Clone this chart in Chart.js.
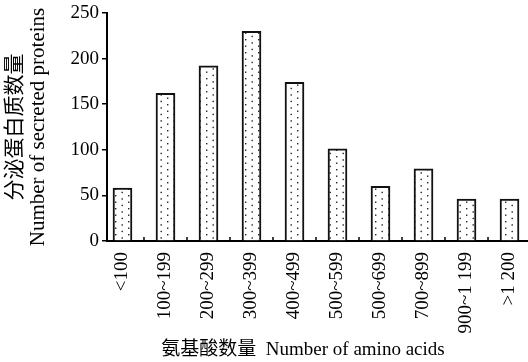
<!DOCTYPE html>
<html>
<head>
<meta charset="utf-8">
<script src="https://cdn.jsdelivr.net/npm/chart.js@4/dist/chart.umd.min.js"></script>
<style>
html,body{margin:0;padding:0;background:#fff;overflow:hidden;}
#wrap{width:528px;height:362px;position:relative;}
</style>
</head>
<body>
<div id="wrap"><canvas id="c" width="528" height="362"></canvas></div>
<script>
// ---- data ----
const categories = ['<100', '100~199', '200~299', '300~399', '400~499', '500~599', '500~699', '700~899', '900~1 199', '>1 200'];
const proteinCounts = [58, 162, 192, 230, 174, 101, 60, 79, 46, 46];
const yTicks = [0, 50, 100, 150, 200, 250];
const yTitle = ['分泌蛋白质数量', 'Number of secreted proteins'];
const xTitle = '氨基酸数量  Number of amino acids';

const FONT = "'Liberation Serif', 'Noto Sans CJK SC', serif";

// dotted fill pattern
function makePattern() {
  const t = document.createElement('canvas');
  t.width = 13; t.height = 13;
  const g = t.getContext('2d');
  g.fillStyle = '#fff';
  g.fillRect(0, 0, 13, 13);
  g.fillStyle = '#222';
  g.fillRect(11, 0, 1.4, 1.4);
  g.fillRect(11, 6.5, 1.4, 1.4);
  g.fillRect(4.5, 3.25, 1.4, 1.4);
  g.fillRect(4.5, 9.75, 1.4, 1.4);
  return document.getElementById('c').getContext('2d').createPattern(t, 'repeat');
}

const innerTicks = {
  id: 'innerTicks',
  afterDatasetsDraw(chart) {
    const ctx = chart.ctx, xs = chart.scales.x, bottom = chart.chartArea.bottom;
    ctx.save();
    ctx.strokeStyle = '#000';
    ctx.lineWidth = 1.5;
    for (let i = 0; i < categories.length - 1; i++) {
      const px = xs.getPixelForValue(i + 0.5);
      ctx.beginPath();
      ctx.moveTo(px, bottom);
      ctx.lineTo(px, bottom - 4);
      ctx.stroke();
    }
    ctx.restore();
  }
};

const xTitlePlugin = {
  id: 'xTitlePlugin',
  afterDraw(chart) {
    const ctx = chart.ctx;
    ctx.save();
    ctx.font = "19px " + FONT;
    ctx.fillStyle = '#000';
    ctx.textAlign = 'center';
    ctx.textBaseline = 'middle';
    ctx.fillText(xTitle, 303, 350);
    ctx.restore();
  }
};

new Chart(document.getElementById('c'), {
  type: 'bar',
  data: {
    datasets: [{
      data: proteinCounts.map((v, i) => ({x: i, y: v})),
      backgroundColor: makePattern(),
      borderColor: '#111',
      borderWidth: 2,
      barThickness: 19
    }]
  },
  options: {
    responsive: false,
    animation: false,
    events: [],
    layout: {padding: {top: 13, left: 0, right: 0, bottom: 0}},
    plugins: {legend: {display: false}, tooltip: {enabled: false}},
    scales: {
      x: {
        type: 'linear',
        offset: false,
        min: -0.36,
        max: 9.43,
        afterBuildTicks(scale) { scale.ticks = categories.map((c, i) => ({value: i})); },
        afterFit(scale) { scale.height = 362 - 241; scale.paddingLeft = 0; scale.paddingRight = 0; },
        ticks: {
          autoSkip: false,
          maxRotation: 90,
          minRotation: 90,
          padding: 3,
          color: '#000',
          font: {family: FONT, size: 19},
          callback: (v) => categories[Math.round(v)] ?? ''
        },
        grid: {display: false, offset: false},
        border: {display: true, color: '#000', width: 2}
      },
      y: {
        min: 0,
        max: 250,
        afterBuildTicks(scale) { scale.ticks = yTicks.map(v => ({value: v})); },
        afterFit(scale) { scale.width = 107; scale.paddingTop = 0; scale.paddingBottom = 0; },
        ticks: {
          padding: 3,
          color: '#000',
          font: {family: FONT, size: 19}
        },
        grid: {drawOnChartArea: false, drawTicks: true, tickLength: 5, color: '#000', lineWidth: 1.5},
        border: {display: true, color: '#000', width: 2},
        title: {
          display: true,
          text: yTitle,
          color: '#000',
          font: {family: FONT, size: 21, lineHeight: 1.1},
          padding: {top: 4, bottom: 0}
        }
      }
    }
  },
  plugins: [innerTicks, xTitlePlugin]
});
</script>
</body>
</html>
